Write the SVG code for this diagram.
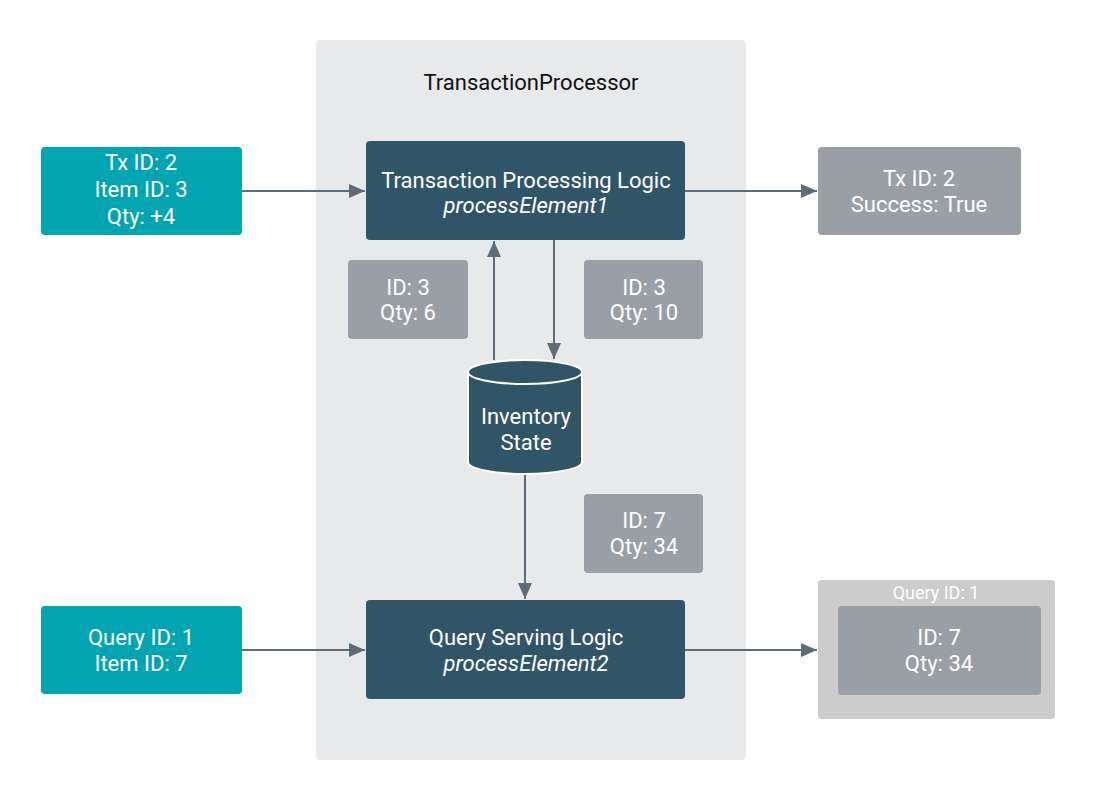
<svg xmlns="http://www.w3.org/2000/svg" width="1095" height="800" viewBox="0 0 1095 800">
<defs>
<marker id="ah" viewBox="0 0 10 10" refX="10" refY="5" markerWidth="16" markerHeight="14" markerUnits="userSpaceOnUse" orient="auto" preserveAspectRatio="none">
<path d="M0,0 L10,5 L0,10 z" fill="#5f6b75"/>
</marker>
<style>
text{font-family:Roboto,"Liberation Sans",sans-serif;font-size:22px;fill:#ffffff;text-anchor:middle}
.teal{fill:#01a5b1}
.dark{fill:#2f5567}
.grey{fill:#9a9ea5}
.edge{stroke:#5f6b75;stroke-width:2;fill:none;marker-end:url(#ah)}
</style>
</defs>
<rect width="1095" height="800" fill="#ffffff"/>
<g id="container">
<rect x="316" y="40" width="430" height="720" rx="4" fill="#e8e9eb"/>
<text x="531" y="90" style="fill:#111111">TransactionProcessor</text>
</g>
<g id="connectors">
<line class="edge" x1="242" y1="191" x2="365" y2="191"/>
<line class="edge" x1="685" y1="191" x2="817" y2="191"/>
<line class="edge" x1="494" y1="360" x2="494" y2="241"/>
<line class="edge" x1="554" y1="240" x2="554" y2="359"/>
<line class="edge" x1="525" y1="474" x2="525" y2="599"/>
<line class="edge" x1="242" y1="650" x2="365" y2="650"/>
<line class="edge" x1="685" y1="650" x2="817" y2="650"/>
</g>
<g id="tx-in">
<rect class="teal" x="41" y="147" width="201" height="88" rx="4"/>
<text x="141" y="170">Tx ID: 2</text>
<text x="141" y="197">Item ID: 3</text>
<text x="141" y="224">Qty: +4</text>
</g>
<g id="tx-logic">
<rect class="dark" x="366" y="141" width="319" height="99" rx="4"/>
<text x="526" y="188">Transaction Processing Logic</text>
<text x="526" y="213" font-style="italic">processElement1</text>
</g>
<g id="tx-out">
<rect class="grey" x="818" y="147" width="203" height="88" rx="4"/>
<text x="919" y="186">Tx ID: 2</text>
<text x="919" y="212">Success: True</text>
</g>
<g id="state-read">
<rect class="grey" x="348" y="260" width="120" height="79" rx="4"/>
<text x="408" y="295">ID: 3</text>
<text x="408" y="320">Qty: 6</text>
</g>
<g id="state-write">
<rect class="grey" x="584" y="260" width="119" height="79" rx="4"/>
<text x="644" y="295">ID: 3</text>
<text x="644" y="320">Qty: 10</text>
</g>
<g id="inventory-state">
<path d="M468,372 L468,462 A57,12 0 0 0 582,462 L582,372 A57,12 0 0 0 468,372 Z" fill="#2f5567" stroke="#ffffff" stroke-width="2"/>
<path d="M468,372 A57,12 0 0 0 582,372" fill="none" stroke="#ffffff" stroke-width="2"/>
<text x="526" y="424">Inventory</text>
<text x="526" y="450">State</text>
</g>
<g id="state-query">
<rect class="grey" x="584" y="494" width="119" height="79" rx="4"/>
<text x="644" y="528">ID: 7</text>
<text x="644" y="554">Qty: 34</text>
</g>
<g id="query-in">
<rect class="teal" x="41" y="606" width="201" height="88" rx="4"/>
<text x="141" y="645">Query ID: 1</text>
<text x="141" y="671">Item ID: 7</text>
</g>
<g id="query-logic">
<rect class="dark" x="366" y="600" width="319" height="99" rx="4"/>
<text x="526" y="645">Query Serving Logic</text>
<text x="526" y="671" font-style="italic">processElement2</text>
</g>
<g id="query-out">
<rect x="818" y="580" width="237" height="139" rx="4" fill="#cccccc"/>
<text x="936" y="599" style="font-size:18px">Query ID: 1</text>
<rect class="grey" x="838" y="606" width="203" height="89" rx="4"/>
<text x="939" y="645">ID: 7</text>
<text x="939" y="671">Qty: 34</text>
</g>
</svg>
